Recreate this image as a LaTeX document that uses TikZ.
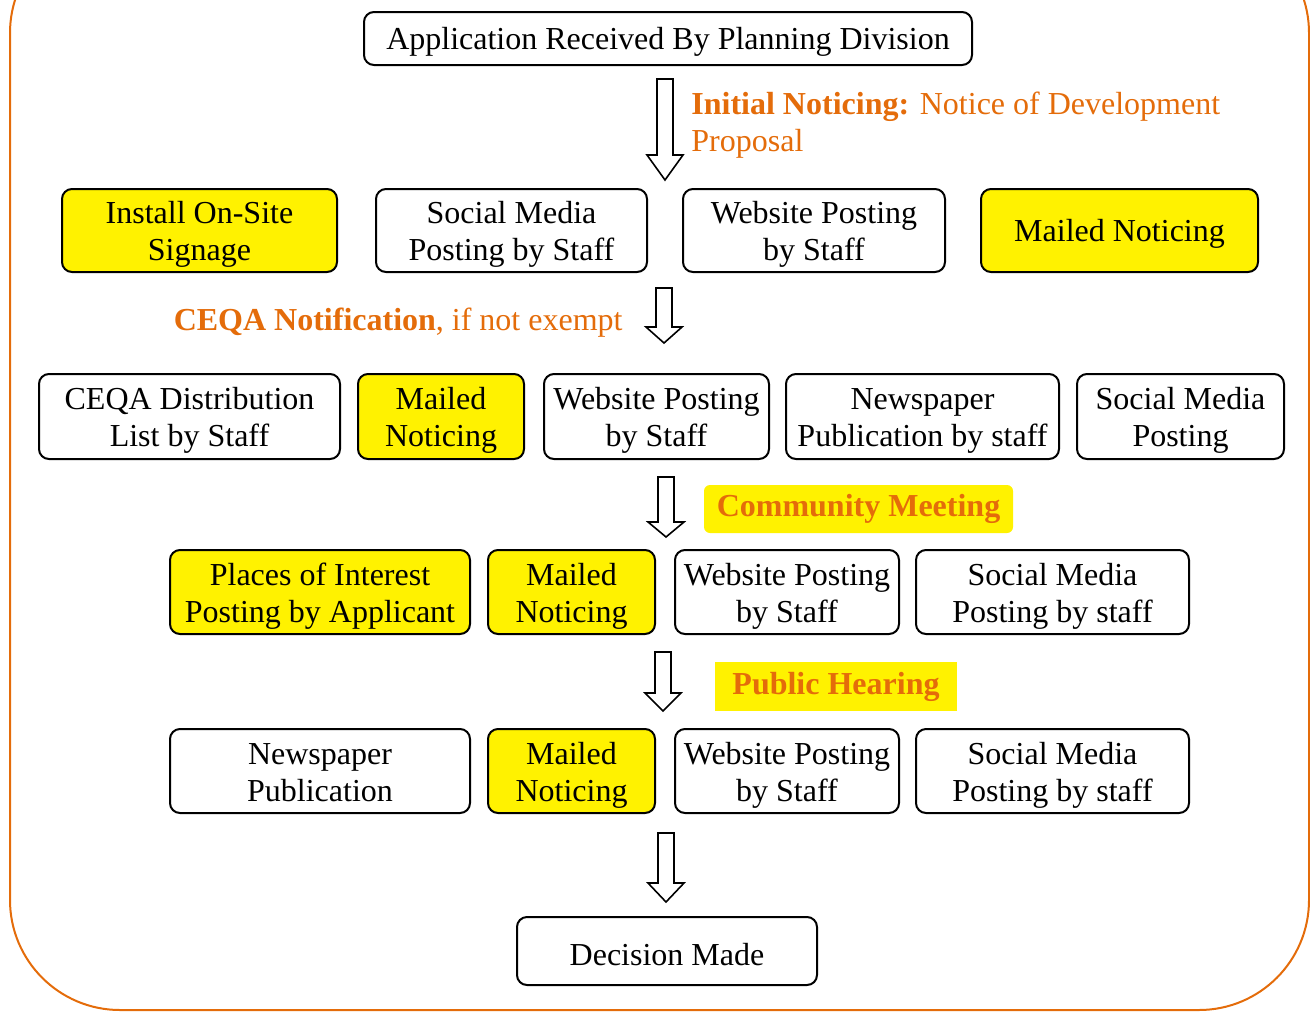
\documentclass[tikz,border=0pt]{standalone}
\usepackage{fontspec}
\setmainfont{Liberation Serif}
\definecolor{orng}{HTML}{E46C0A}
\tikzset{
  box/.style={draw,line width=1pt,rounded corners=5pt,align=center,inner sep=1pt,
    font=\fontsize{16}{18.5}\selectfont,execute at begin node={\rule{0pt}{14.4pt}}},
  ybox/.style={box,fill=yellow},
  twoline/.style={text height=33.5pt,text depth=3.5pt},
  lbl/.style={text=orng,align=left,inner sep=0pt,font=\fontsize{16}{18.5}\selectfont},
  blockarr/.style={draw,line width=0.8pt,fill=white,line join=miter}
}
\begin{document}
\begin{tikzpicture}[x=0.5pt,y=-0.5pt]
\useasboundingbox (0,0) rectangle (1310,1012);
% outer frame
\draw[orng,line width=1pt,rounded corners=55pt] (10,-77) rectangle (1309,1010);

% top
\node[box,minimum width=304pt,minimum height=26.5pt] (recv) at (668,38.5) {Application Received By Planning Division};

% initial noticing
\node[ybox,twoline,minimum width=137.5pt,minimum height=41.5pt] (sign) at (199.5,230.5) {Install On-Site\\Signage};
\node[box,twoline,minimum width=135.5pt,minimum height=41.5pt] (social1) at (511.5,230.5) {Social Media\\Posting by Staff};
\node[box,twoline,minimum width=131pt,minimum height=41.5pt] (web1) at (814,230.5) {Website Posting\\by Staff};
\node[ybox,minimum width=138.5pt,minimum height=41.5pt] (mail1) at (1119.5,230.5) {Mailed Noticing};

% ceqa
\node[box,twoline,minimum width=150.5pt,minimum height=42.5pt] (ceqa) at (189.5,416.5) {CEQA Distribution\\List by Staff};
\node[ybox,twoline,minimum width=83pt,minimum height=42.5pt] (mail2) at (441,416.5) {Mailed\\Noticing};
\node[box,twoline,minimum width=112.5pt,minimum height=42.5pt] (web2) at (656.5,416.5) {Website Posting\\by Staff};
\node[box,twoline,minimum width=136.5pt,minimum height=42.5pt] (news2) at (922.5,416.5) {Newspaper\\Publication by staff};
\node[box,twoline,minimum width=103.5pt,minimum height=42.5pt] (social2) at (1180.5,416.5) {Social Media\\Posting};

% community meeting
\node[ybox,twoline,minimum width=150pt,minimum height=42pt] (poi) at (320,592) {Places of Interest\\Posting by Applicant};
\node[ybox,twoline,minimum width=83.5pt,minimum height=42pt] (mail3) at (571.5,592) {Mailed\\Noticing};
\node[box,twoline,minimum width=112pt,minimum height=42pt] (web3) at (787,592) {Website Posting\\by Staff};
\node[box,twoline,minimum width=136.5pt,minimum height=42pt] (social3) at (1052.5,592) {Social Media\\Posting by staff};

% public hearing
\node[box,twoline,minimum width=150pt,minimum height=42pt] (news4) at (320,771) {Newspaper\\Publication};
\node[ybox,twoline,minimum width=83.5pt,minimum height=42pt] (mail4) at (571.5,771) {Mailed\\Noticing};
\node[box,twoline,minimum width=112pt,minimum height=42pt] (web4) at (787,771) {Website Posting\\by Staff};
\node[box,twoline,minimum width=136.5pt,minimum height=42pt] (social4) at (1052.5,771) {Social Media\\Posting by staff};

\node[box,minimum width=150pt,minimum height=34pt] (decide) at (667,951) {Decision Made};

% labels
\node[lbl,anchor=west] (initial) at (691,125) {\textbf{Initial Noticing:} Notice of Development\\Proposal};
\node[lbl,anchor=east] (ceqalbl) at (623,323) {\textbf{CEQA Notification}, if not exempt};
\node[lbl,fill=yellow,rounded corners=3pt,minimum width=154.5pt,minimum height=24pt,font=\fontsize{16}{18.5}\selectfont\bfseries] (meet) at (858.5,509) {Community Meeting};
\node[lbl,fill=yellow,minimum width=121pt,minimum height=24.5pt,font=\fontsize{16}{18.5}\selectfont\bfseries] (hear) at (836,686.5) {Public Hearing};

% block arrows
\foreach \ax/\ya/\yb/\yc in {665/79/155/180,664/288/327/343,666/477/522/537,663/652/693/711,666/833/883/902}
  \draw[blockarr] (\ax-8,\ya) -- (\ax+8,\ya) -- (\ax+8,\yb) -- (\ax+18,\yb) -- (\ax,\yc)
    -- (\ax-18,\yb) -- (\ax-8,\yb) -- cycle;
\end{tikzpicture}
\end{document}
